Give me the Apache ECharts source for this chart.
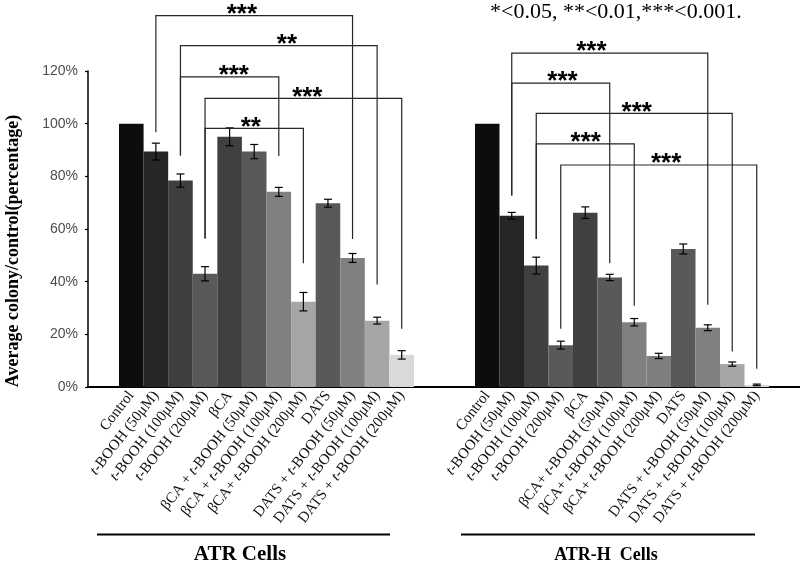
<!DOCTYPE html>
<html>
<head>
<meta charset="utf-8">
<script src="https://cdn.jsdelivr.net/npm/echarts@6/dist/echarts.min.js"></script>
<style>html,body{margin:0;padding:0;background:#fff}#c{width:800px;height:564px}</style>
</head>
<body>
<div id="c"></div>
<script>
// ---- data ----
const yTicks = [0, 20, 40, 60, 80, 100, 120];
const catsATR = ['Control','t-BOOH (50μM)','t-BOOH (100μM)','t-BOOH (200μM)','βCA','βCA + t-BOOH (50μM)','βCA + t-BOOH (100μM)','βCA+ t-BOOH (200μM)','DATS','DATS + t-BOOH (50μM)','DATS + t-BOOH (100μM)','DATS + t-BOOH (200μM)'];
const catsATRH = ['Control','t-BOOH (50μM)','t-BOOH (100μM)','t-BOOH (200μM)','βCA','βCA+ t-BOOH (50μM)','βCA+ t-BOOH (100μM)','βCA+ t-BOOH (200μM)','DATS','DATS + t-BOOH (50μM)','DATS + t-BOOH (100μM)','DATS + t-BOOH (200μM)'];
const valuesATR = [100, 89.4, 78.4, 43.0, 95.0, 89.4, 74.1, 32.4, 69.8, 49.0, 25.2, 12.2];
const errorsATR = [0, 3.2, 2.5, 2.7, 3.4, 2.7, 1.7, 3.5, 1.5, 1.7, 1.3, 1.6];
const valuesATRH = [100, 65.0, 46.1, 15.9, 66.2, 41.6, 24.6, 11.8, 52.4, 22.5, 8.7, 0.8];
const errorsATRH = [0, 1.3, 3.2, 1.5, 2.2, 1.2, 1.4, 1.0, 1.9, 1.1, 0.8, 0.3];
const colorsATR = ['#0d0d0d','#262626','#3f3f3f','#595959','#404040','#595959','#808080','#a6a6a6','#595959','#808080','#a6a6a6','#d9d9d9'];
const colorsATRH = ['#0d0d0d','#262626','#404040','#595959','#404040','#595959','#808080','#7f7f7f','#595959','#808080','#a6a6a6','#d9d9d9'];
// brackets: [fromIndex, toIndex, level%, fromEnd%, toEnd%, labelIndex]
const bracketsATR = [
  [1, 9, 141.0, 96.7, 56.2, 4.5],
  [2, 10, 129.6, 87.9, 38.9, 6.33],
  [2, 6, 117.8, 87.9, 87.7, 4.17],
  [3, 11, 109.6, 56.4, 22.1, 7.16],
  [3, 7, 98.2, 56.4, 47.0, 4.86]
];
const bracketLabelsATR = ['***', '**', '***', '***', '**'];
const bracketsATRH = [
  [1, 9, 126.8, 72.7, 31.2, 4.25],
  [1, 5, 115.4, 72.7, 47.0, 3.07],
  [2, 10, 103.9, 56.2, 13.5, 6.1],
  [2, 6, 92.3, 56.2, 30.9, 4.02],
  [3, 11, 84.3, 22.1, 6.9, 7.3]
];
const bracketLabelsATRH = ['***', '***', '***', '***', '***'];
const groupTitles = ['ATR Cells', 'ATR-H  Cells'];
const yTitle = 'Average colony/control(percentage)';
const noteText = '*<0.05, **<0.01,***<0.001.';

// ---- helpers ----
function labelFmt(v) { return v.replace('t-BOOH', '{i|t}-BOOH'); }
const serif = '"Liberation Serif", "Times New Roman", serif';
const sans = '"Liberation Sans", Arial, sans-serif';

function errRender(errors) {
  return function (params, api) {
    const i = api.value(0), v = api.value(1), e = errors[params.dataIndex];
    if (!e) return null;
    const t = api.coord([i, v + e]), b = api.coord([i, v - e]);
    const h = 4;
    const st = { stroke: '#000', lineWidth: 1.2 };
    return { type: 'group', children: [
      { type: 'line', shape: { x1: t[0], y1: t[1], x2: b[0], y2: b[1] }, style: st },
      { type: 'line', shape: { x1: t[0] - h, y1: t[1], x2: t[0] + h, y2: t[1] }, style: st },
      { type: 'line', shape: { x1: b[0] - h, y1: b[1], x2: b[0] + h, y2: b[1] }, style: st }
    ]};
  };
}
function bracketRender(labels) {
  return function (params, api) {
    const f = api.value(0), t = api.value(1), lv = api.value(2), fe = api.value(3), te = api.value(4), lp = api.value(5);
    const p1 = api.coord([f, fe]), p2 = api.coord([f, lv]), p3 = api.coord([t, lv]), p4 = api.coord([t, te]);
    const lx = p2[0] + (lp - f) * (p3[0] - p2[0]) / (t - f);
    return { type: 'group', children: [
      { type: 'polyline', shape: { points: [p1, p2, p3, p4] }, style: { stroke: '#262626', lineWidth: 1.2, fill: null } },
      { type: 'text', x: lx, y: p2[1] - 1, style: { text: labels[params.dataIndex], font: 'bold 26px ' + sans, fill: '#000', align: 'center', verticalAlign: 'middle' } }
    ]};
  };
}
function catAxis(idx, cats) {
  return {
    type: 'category', gridIndex: idx, data: cats,
    axisLine: { show: false }, axisTick: { show: false },
    axisLabel: {
      interval: 0, rotate: 52, margin: 6, formatter: labelFmt,
      color: '#111', fontFamily: serif, fontSize: 15,
      rich: { i: { fontStyle: 'italic', fontFamily: serif, fontSize: 15, color: '#111' } }
    }
  };
}
function hiddenY(idx) {
  return { type: 'value', gridIndex: idx, min: 0, max: 120, show: false };
}

const chart = echarts.init(document.getElementById('c'), null, { renderer: 'canvas' });
chart.setOption({
  animation: false,
  backgroundColor: '#fff',
  grid: [
    { left: 88, right: 0, top: 71, height: 316 },
    { left: 119, width: 295, top: 71, height: 316 },
    { left: 475, width: 294, top: 71, height: 316 }
  ],
  xAxis: [
    { type: 'value', gridIndex: 0, min: 0, max: 1, axisLine: { show: true, lineStyle: { color: '#000', width: 2 } },
      axisTick: { show: false }, axisLabel: { show: false }, splitLine: { show: false } },
    catAxis(1, catsATR),
    catAxis(2, catsATRH)
  ],
  yAxis: [
    { type: 'value', gridIndex: 0, min: yTicks[0], max: yTicks[yTicks.length - 1], interval: 20,
      axisLine: { show: true, lineStyle: { color: '#000', width: 1.5 } },
      axisTick: { show: true, length: 3, lineStyle: { color: '#000', width: 1.2 } },
      splitLine: { show: false },
      axisLabel: { formatter: '{value}%', color: '#4d4d4d', fontFamily: sans, fontSize: 14, margin: 10 } },
    hiddenY(1), hiddenY(2)
  ],
  series: [
    { type: 'bar', xAxisIndex: 1, yAxisIndex: 1, barCategoryGap: '0%',
      data: valuesATR.map((v, i) => ({ value: v, itemStyle: { color: colorsATR[i] } })) },
    { type: 'bar', xAxisIndex: 2, yAxisIndex: 2, barCategoryGap: '0%',
      data: valuesATRH.map((v, i) => ({ value: v, itemStyle: { color: colorsATRH[i] } })) },
    { type: 'custom', xAxisIndex: 1, yAxisIndex: 1, renderItem: errRender(errorsATR), z: 5,
      data: valuesATR.map((v, i) => [i, v]) },
    { type: 'custom', xAxisIndex: 2, yAxisIndex: 2, renderItem: errRender(errorsATRH), z: 5,
      data: valuesATRH.map((v, i) => [i, v]) },
    { type: 'custom', xAxisIndex: 1, yAxisIndex: 1, renderItem: bracketRender(bracketLabelsATR), z: 6, clip: false,
      data: bracketsATR },
    { type: 'custom', xAxisIndex: 2, yAxisIndex: 2, renderItem: bracketRender(bracketLabelsATRH), z: 6, clip: false,
      data: bracketsATRH }
  ],
  graphic: [
    { type: 'text', x: 13, y: 251, rotation: Math.PI / 2,
      style: { text: yTitle, font: 'bold 18px ' + serif, fill: '#000', align: 'center', verticalAlign: 'middle' } },
    { type: 'text', x: 490, y: 12, style: { text: noteText, font: '22px ' + serif, fill: '#000', align: 'left', verticalAlign: 'middle' } },
    { type: 'line', shape: { x1: 97, y1: 534.5, x2: 390, y2: 534.5 }, style: { stroke: '#000', lineWidth: 2 } },
    { type: 'line', shape: { x1: 461, y1: 534.5, x2: 755, y2: 534.5 }, style: { stroke: '#000', lineWidth: 2 } },
    { type: 'text', x: 240, y: 555, style: { text: groupTitles[0], font: 'bold 21px ' + serif, fill: '#000', align: 'center', verticalAlign: 'middle' } },
    { type: 'text', x: 606, y: 555, style: { text: groupTitles[1], font: 'bold 18px ' + serif, fill: '#000', align: 'center', verticalAlign: 'middle' } }
  ]
});
</script>
</body>
</html>
